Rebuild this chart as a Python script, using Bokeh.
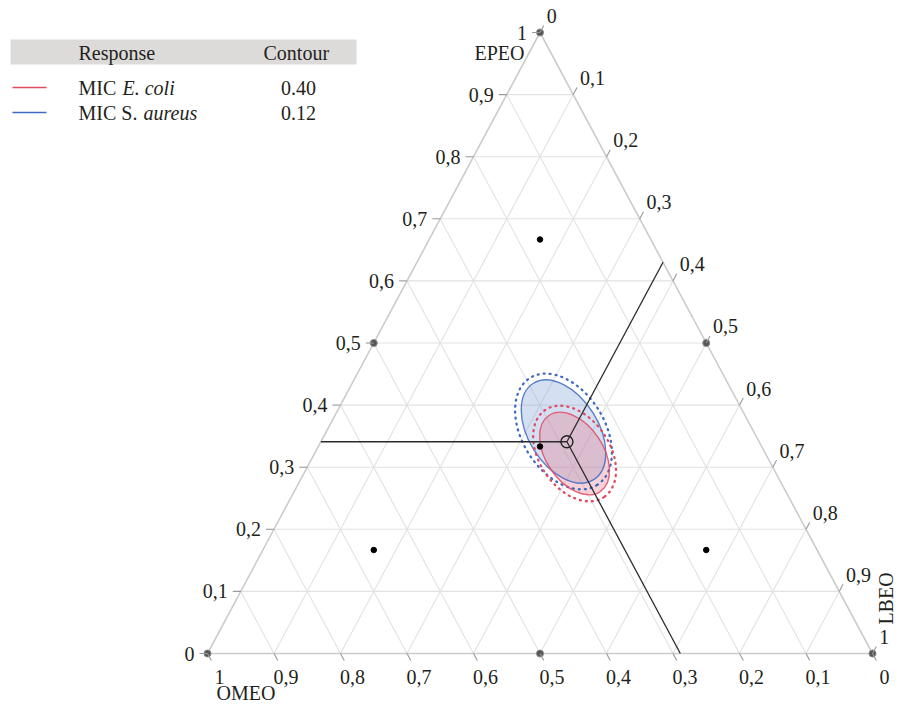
import numpy as np
from bokeh.plotting import figure
from bokeh.models import Range1d
from bokeh.core.properties import value
from bokeh.embed import file_html
from bokeh.resources import INLINE

# ---------------- data ----------------
axis_names = ["EPEO", "OMEO", "LBEO"]
tick_vals = [0.0, 0.1, 0.2, 0.3, 0.4, 0.5, 0.6, 0.7, 0.8, 0.9, 1.0]
tick_text = ["0", "0,1", "0,2", "0,3", "0,4", "0,5", "0,6", "0,7", "0,8", "0,9", "1"]

design_epeo = [1.0, 0.0, 0.0, 0.5, 0.5, 0.0, 2/3, 1/6, 1/6, 1/3]
design_omeo = [0.0, 1.0, 0.0, 0.5, 0.0, 0.5, 1/6, 2/3, 1/6, 1/3]
design_lbeo = [0.0, 0.0, 1.0, 0.0, 0.5, 0.5, 1/6, 1/6, 2/3, 1/3]
design_kind = ["edge", "edge", "edge", "edge", "edge", "edge", "inner", "inner", "inner", "inner"]

opt_epeo = 0.341
opt_omeo = 0.289
opt_lbeo = 0.370

responses = ["MIC E. coli", "MIC S. aureus"]
response_prefix = ["MIC", "MIC S."]
response_italic = ["E. coli", "aureus"]
contours = ["0.40", "0.12"]
region_colors = ["#e24a62", "#3d6bc2"]
region_fills = ["#e87a8c", "#7f9fd8"]
region_epeo = [0.3220, 0.3575]
region_lbeo = [0.3910, 0.3566]
region_major = [0.138, 0.171]
region_minor = [0.086, 0.105]
region_angle = [-56.0, -58.0]
conf_extra = [0.020, 0.019]

# ---------------- geometry ----------------
H = 621.0 / 665.0          # height of triangle in data units (x span = 1)
PX = 1.0 / 665.0           # one screen pixel in data units


def cart(e, o, l):
    e = np.asarray(e, dtype=float)
    l = np.asarray(l, dtype=float)
    return l + e / 2.0, e * H


def SX(X):
    return (X - 207.0) / 665.0


def SY(Y):
    return (653.0 - Y) / 665.0


W, HH = 897, 702
p = figure(width=W, height=HH, output_backend="svg", toolbar_location=None,
           x_axis_type=None, y_axis_type=None, min_border=0,
           x_range=Range1d(-207.0 / 665.0, (W - 207.0) / 665.0),
           y_range=Range1d(-(HH - 653.0) / 665.0, 653.0 / 665.0))
p.grid.visible = False
p.outline_line_color = None
p.background_fill_color = "white"
p.border_fill_color = "white"

FONT = value("Liberation Serif")
FS = "20px"
TXT = "#231f20"

# ---------------- grid ----------------
gx, gy = [], []
for v in tick_vals[1:-1]:
    x, y = cart([v, v], [1 - v, 0], [0, 1 - v]); gx.append(list(x)); gy.append(list(y))
    x, y = cart([1 - v, 0], [v, v], [0, 1 - v]); gx.append(list(x)); gy.append(list(y))
    x, y = cart([1 - v, 0], [0, 1 - v], [v, v]); gx.append(list(x)); gy.append(list(y))
p.multi_line(gx, gy, line_color="#e2e2e2", line_width=1.1)

tx, ty = cart([1, 0, 0, 1], [0, 1, 0, 0], [0, 0, 1, 0])
p.line(tx, ty, line_color="#cccccc", line_width=1.6)

# ---------------- regions ----------------
rx, ry = cart(region_epeo, [0, 0], region_lbeo)
order = [1, 0]
for i in order:
    p.ellipse(x=[rx[i]], y=[ry[i]], width=[region_major[i]], height=[region_minor[i]],
              angle=region_angle[i], angle_units="deg",
              fill_color=region_fills[i], fill_alpha=0.33, line_color=None)
for i in order:
    p.ellipse(x=[rx[i]], y=[ry[i]], width=[region_major[i]], height=[region_minor[i]],
              angle=region_angle[i], angle_units="deg",
              fill_color=None, line_color=region_colors[i], line_width=1.4, line_alpha=0.85)
    p.ellipse(x=[rx[i]], y=[ry[i]], width=[region_major[i] + conf_extra[i]],
              height=[region_minor[i] + conf_extra[i]],
              angle=region_angle[i], angle_units="deg",
              fill_color=None, line_color=region_colors[i], line_width=2.3,
              line_dash="1 5", line_cap="round")

# ---------------- optimum reference lines ----------------
ox, oy = cart(opt_epeo, opt_omeo, opt_lbeo)
ex1 = cart(opt_epeo, 1 - opt_epeo, 0)
ex2 = cart(1 - opt_lbeo, 0, opt_lbeo)
ex3 = cart(0, opt_omeo, 1 - opt_omeo)
p.multi_line([[float(ex1[0]), float(ox)], [float(ox), float(ex2[0])], [float(ox), float(ex3[0])]],
             [[float(ex1[1]), float(oy)], [float(oy), float(ex2[1])], [float(oy), float(ex3[1])]],
             line_color="#2a2a2a", line_width=1.3)

# ---------------- design points ----------------
dx, dy = cart(design_epeo, design_omeo, design_lbeo)
edge_idx = [i for i, k in enumerate(design_kind) if k == "edge"]
inner_idx = [i for i, k in enumerate(design_kind) if k == "inner"]
p.scatter(dx[edge_idx], dy[edge_idx], size=7, fill_color="#555555", line_color="#888888", line_width=1)
p.scatter(dx[inner_idx], dy[inner_idx], size=5.5, fill_color="black", line_color="black")

p.scatter([float(ox)], [float(oy)], size=12, fill_color=None, line_color="#222222", line_width=1.4)

# ---------------- ticks & labels ----------------
TL = 8 * PX
ux, uy = 0.5 / np.hypot(0.5, H), H / np.hypot(0.5, H)
t_x, t_y = [], []
for v, lab in zip(tick_vals, tick_text):
    # left (EPEO)
    x0, y0 = cart(v, 1 - v, 0)
    t_x.append([float(x0), float(x0) - TL]); t_y.append([float(y0), float(y0)])
    p.text([float(x0) - TL - 5 * PX], [float(y0)], text=[lab], text_align="right",
           text_baseline="middle", text_font=FONT, text_font_size=FS, text_color=TXT)
    # right (LBEO)
    x0, y0 = cart(1 - v, 0, v)
    xe, ye = float(x0) + TL * ux, float(y0) + TL * uy
    t_x.append([float(x0), xe]); t_y.append([float(y0), ye])
    p.text([xe + 3 * PX], [ye + 9.5 * PX], text=[lab], text_align="left",
           text_baseline="middle", text_font=FONT, text_font_size=FS, text_color=TXT)
    # bottom (OMEO)
    x0, y0 = cart(0, v, 1 - v)
    xe, ye = float(x0) + TL * ux, float(y0) - TL * uy
    t_x.append([float(x0), xe]); t_y.append([float(y0), ye])
    p.text([float(x0) + 12 * PX], [float(y0) - 23.5 * PX], text=[lab], text_align="center",
           text_baseline="middle", text_font=FONT, text_font_size=FS, text_color=TXT)
p.multi_line(t_x, t_y, line_color="#999999", line_width=1.1)

# axis titles
p.text([SX(524)], [SY(52)], text=[axis_names[0]], text_align="right", text_baseline="middle",
       text_font=FONT, text_font_size=FS, text_color=TXT)
p.text([SX(216)], [SY(692)], text=[axis_names[1]], text_align="left", text_baseline="middle",
       text_font=FONT, text_font_size=FS, text_color=TXT)
p.text([SX(885)], [SY(598)], text=[axis_names[2]], text_align="center", text_baseline="middle",
       angle=np.pi / 2, text_font=FONT, text_font_size=FS, text_color=TXT)

# ---------------- legend table ----------------
p.quad(left=[SX(10)], right=[SX(356)], top=[SY(39)], bottom=[SY(64)],
       fill_color="#dcdbda", line_color=None)
p.text([SX(78)], [SY(52)], text=["Response"], text_align="left", text_baseline="middle",
       text_font=FONT, text_font_size=FS, text_color=TXT)
p.text([SX(263)], [SY(52)], text=["Contour"], text_align="left", text_baseline="middle",
       text_font=FONT, text_font_size=FS, text_color=TXT)
row_y = [87, 112]
italic_x = [122, 143]
for i in range(len(responses)):
    p.line([SX(12), SX(46)], [SY(row_y[i]), SY(row_y[i])], line_color=region_colors[i], line_width=1.4)
    p.text([SX(78)], [SY(row_y[i])], text=[response_prefix[i]], text_align="left", text_baseline="middle",
           text_font=FONT, text_font_size=FS, text_color=TXT)
    p.text([SX(italic_x[i])], [SY(row_y[i])], text=[response_italic[i]], text_align="left",
           text_baseline="middle", text_font=FONT, text_font_size=FS, text_font_style="italic",
           text_color=TXT)
    p.text([SX(298)], [SY(row_y[i])], text=[contours[i]], text_align="center", text_baseline="middle",
           text_font=FONT, text_font_size=FS, text_color=TXT)

open("out.html", "w").write(file_html(p, INLINE))
